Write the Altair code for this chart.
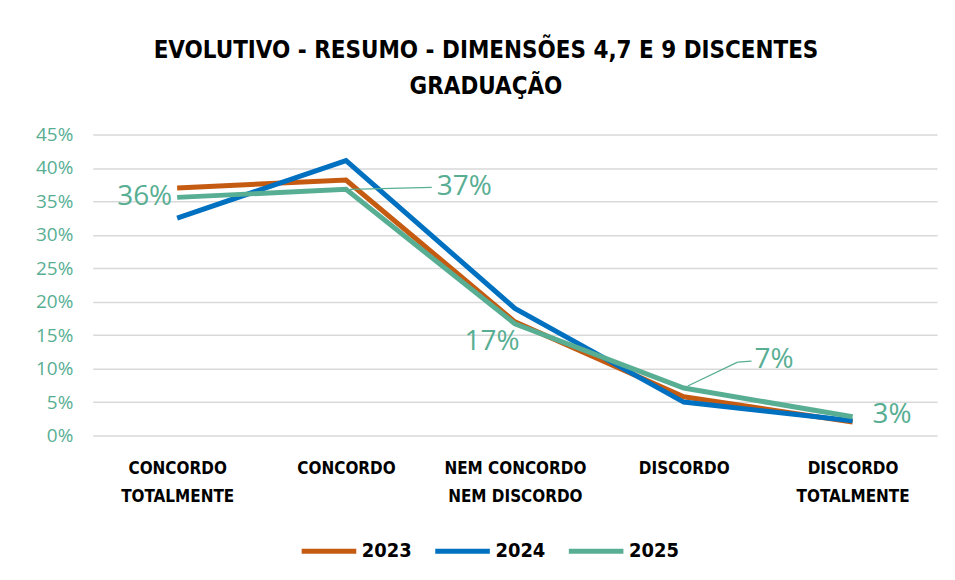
import altair as alt
import pandas as pd

# ---- data ----
categories = ["CONCORDO TOTALMENTE", "CONCORDO", "NEM CONCORDO NEM DISCORDO", "DISCORDO", "DISCORDO TOTALMENTE"]
years = ["2023", "2024", "2025"]
v2023 = [0.370, 0.382, 0.170, 0.058, 0.020]
v2024 = [0.325, 0.411, 0.190, 0.050, 0.022]
v2025 = [0.356, 0.368, 0.167, 0.071, 0.028]
colors = ["#C55A11", "#0070C0", "#58AE93"]
y_ticks = [0, 0.05, 0.10, 0.15, 0.20, 0.25, 0.30, 0.35, 0.40, 0.45]

rows = []
for yr, vals in zip(years, [v2023, v2024, v2025]):
    for i, (c, v) in enumerate(zip(categories, vals)):
        rows.append({"cat": c, "year": yr, "value": v, "order": i})
df = pd.DataFrame(rows)
df25 = pd.DataFrame({"cat": categories, "value": v2025})

GREEN = colors[2]
COND = "DejaVu Sans Condensed, Liberation Sans Narrow, sans-serif"

x_axis = alt.Axis(title=None, domain=False, ticks=False, labelAngle=0,
                  labelFont=COND, labelFontWeight="bold", labelFontSize=17,
                  labelColor="#000000", labelPadding=33, labelLineHeight=28,
                  labelBaseline="middle", labelLimit=300,
                  labelExpr="datum.label == 'CONCORDO TOTALMENTE' ? ['CONCORDO','TOTALMENTE'] : "
                            "datum.label == 'NEM CONCORDO NEM DISCORDO' ? ['NEM CONCORDO','NEM DISCORDO'] : "
                            "datum.label == 'DISCORDO TOTALMENTE' ? ['DISCORDO','TOTALMENTE'] : datum.label")
y_axis = alt.Axis(title=None, format=".0%", values=y_ticks, domain=False, ticks=False,
                  labelFont="Open Sans", labelFontSize=19, labelColor=GREEN,
                  labelPadding=20, labelOverlap=False, labelBaseline="middle",
                  grid=True, gridColor="#D9D9D9", gridWidth=1.5)
x_scale = alt.Scale(type="point", padding=0.5)
y_scale = alt.Scale(domain=[0, 0.45], nice=False, zero=True)

x_enc = alt.X("cat:N", sort=categories, scale=x_scale, axis=x_axis)
y_enc = alt.Y("value:Q", scale=y_scale, axis=y_axis)

lines = alt.Chart(df).mark_line(strokeWidth=5, strokeCap="butt").encode(
    x=x_enc, y=y_enc,
    color=alt.Color("year:N", scale=alt.Scale(domain=years, range=colors),
                    legend=alt.Legend(title=None, orient="none", direction="horizontal",
                                      legendX=207, legendY=388, symbolType="stroke",
                                      symbolStrokeWidth=5, symbolSize=3000,
                                      labelFont=COND, labelFontWeight="bold", labelFontSize=20,
                                      labelColor="#000000", columnPadding=12, labelOffset=3)),
    order="order:Q",
)

# label styles (offsets in pixels, kept separate from data)
label_style = [
    {"dx": -5, "dy": 0, "align": "right"},
    {"dx": 91, "dy": -2, "align": "left"},
    {"dx": -23, "dy": 18, "align": "center"},
    {"dx": 71, "dy": -28, "align": "left"},
    {"dx": 20, "dy": -2, "align": "left"},
]

layers = [lines]
for i, st in enumerate(label_style):
    layers.append(
        alt.Chart(df25.iloc[[i]]).mark_text(font="Open Sans", fontSize=28, color=GREEN,
                                            baseline="middle", align=st["align"],
                                            dx=st["dx"], dy=st["dy"]).encode(
            x=x_enc, y=y_enc,
            text=alt.Text("value:Q", format=".0%"))
    )

# leader lines
leader_style = [
    (1, {"xOffset": 4, "x2Offset": 86, "yOffset": 0, "y2Offset": -2}),
    (3, {"xOffset": 4, "x2Offset": 54, "yOffset": -2, "y2Offset": -26}),
    (3, {"xOffset": 54, "x2Offset": 68, "yOffset": -26, "y2Offset": -27}),
]
for i, st in leader_style:
    layers.append(
        alt.Chart(df25.iloc[[i]]).mark_rule(color=GREEN, strokeWidth=1.3, **st).encode(
            x=x_enc, y=y_enc,
            x2="cat:N", y2="value:Q")
    )

chart = alt.layer(*layers).properties(
    width=847, height=302,
    autosize=alt.AutoSizeParams(type="none"),
    padding={"left": 85, "top": 126, "right": 10, "bottom": 130},
    title=alt.TitleParams(text=["EVOLUTIVO - RESUMO - DIMENSÕES 4,7 E 9 DISCENTES", "GRADUAÇÃO"],
                          font=COND, fontSize=24, fontWeight="bold", color="#000000",
                          anchor="middle", dx=-29, offset=27, lineHeight=36),
).configure(background="#FFFFFF").configure_view(stroke=None)

chart.save("out.html", embed_options={"renderer": "svg", "actions": False})
